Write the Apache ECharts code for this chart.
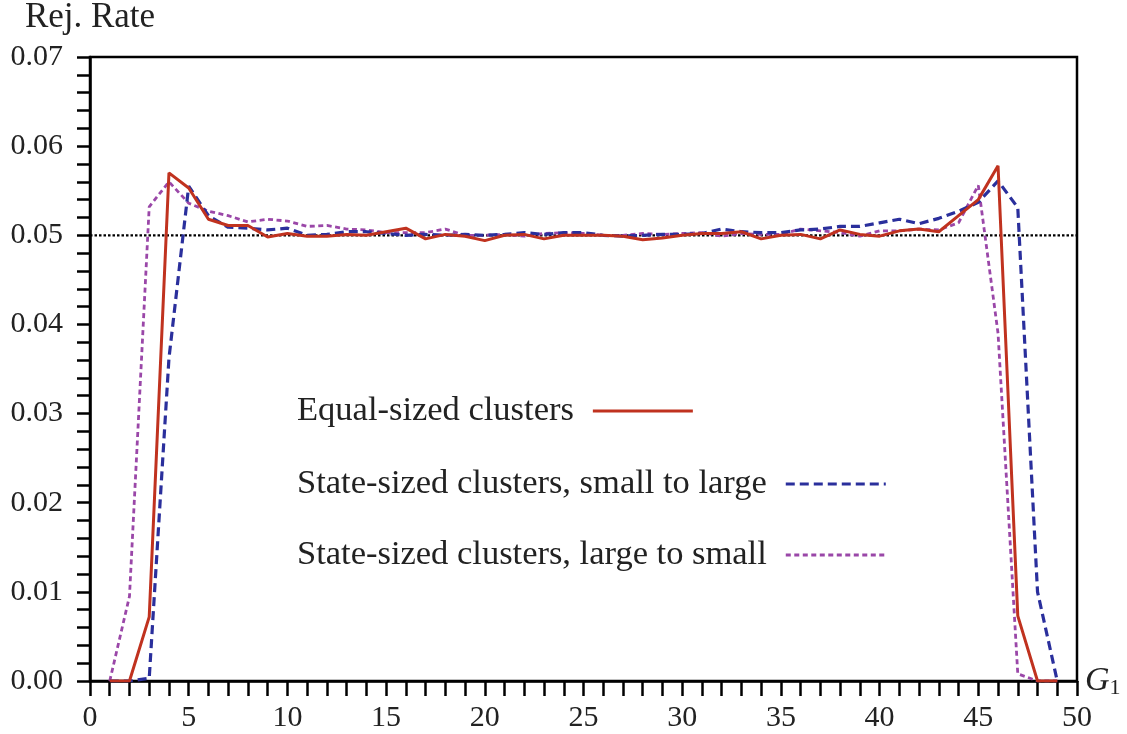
<!DOCTYPE html>
<html>
<head>
<meta charset="utf-8">
<script src="https://cdn.jsdelivr.net/npm/echarts@6/dist/echarts.min.js"></script>
<style>html,body{margin:0;padding:0;background:#fff}#c{width:1127px;height:734px}</style>
</head>
<body>
<div id="c"></div>
<script>
const G1 = [1,2,3,4,5,6,7,8,9,10,11,12,13,14,15,16,17,18,19,20,21,22,23,24,25,26,27,28,29,30,31,32,33,34,35,36,37,38,39,40,41,42,43,44,45,46,47,48,49];
const equalSized = [0,0,0.0072,0.0570,0.0553,0.0518,0.0511,0.0511,0.0498,0.0502,0.0499,0.0499,0.0501,0.0500,0.0504,0.0508,0.0496,0.0501,0.0499,0.0494,0.0500,0.0501,0.0496,0.0500,0.0500,0.0500,0.0499,0.0495,0.0497,0.0500,0.0502,0.0502,0.0504,0.0496,0.0500,0.0501,0.0496,0.0506,0.0501,0.0499,0.0505,0.0507,0.0504,0.0522,0.0540,0.0578,0.0073,0,0];
const smallToLarge = [0,0,0.0003,0.0362,0.0555,0.0522,0.0509,0.0508,0.0506,0.0508,0.0500,0.0501,0.0504,0.0504,0.0502,0.0500,0.0501,0.0500,0.0501,0.0500,0.0501,0.0503,0.0501,0.0503,0.0503,0.0500,0.0499,0.0500,0.0501,0.0501,0.0502,0.0507,0.0504,0.0503,0.0503,0.0506,0.0507,0.0510,0.0510,0.0514,0.0518,0.0513,0.0519,0.0527,0.0537,0.0561,0.0531,0.0100,0];
const largeToSmall = [0,0.0095,0.0532,0.0560,0.0536,0.0527,0.0522,0.0515,0.0518,0.0516,0.0510,0.0511,0.0507,0.0506,0.0503,0.0503,0.0503,0.0507,0.0500,0.0500,0.0501,0.0499,0.0502,0.0503,0.0502,0.0500,0.0500,0.0502,0.0501,0.0502,0.0503,0.0499,0.0502,0.0501,0.0501,0.0507,0.0505,0.0503,0.0499,0.0505,0.0505,0.0507,0.0506,0.0514,0.0556,0.0390,0.0008,0,0];
const nominal = [[0,0.05],[50,0.05]];
const names = ['Equal-sized clusters','State-sized clusters, small to large','State-sized clusters, large to small'];

const FONT = 'Liberation Serif';
const pair = arr => G1.map((g,i)=>[g,arr[i]]);
const legendTops = [393, 466, 537];
const chart = echarts.init(document.getElementById('c'), null, {renderer:'canvas'});
chart.setOption({
  animation:false,
  backgroundColor:'#fff',
  grid:{left:90,right:50,top:52,bottom:53,show:true,borderColor:'#000',borderWidth:2.5,backgroundColor:'transparent'},
  legend:names.map((n,i)=>({
    orient:'horizontal', left:297, top:legendTops[i], align:'right', padding:0,
    itemWidth:100, itemHeight:14, itemGap:0,
    data:[n],
    itemStyle:{opacity:0},
    lineStyle:{width:3},
    textStyle:{fontFamily:FONT,fontSize:34.5,color:'#222',lineHeight:36,padding:[0,14,0,0]}
  })),
  xAxis:{
    type:'value', min:0, max:50, interval:5,
    name:'{i|G}{s|1}', nameLocation:'end', nameGap:8,
    nameTextStyle:{rich:{i:{fontFamily:FONT,fontStyle:'italic',fontSize:34,color:'#222'},s:{fontFamily:FONT,fontSize:22,color:'#222',verticalAlign:'bottom',padding:[14,0,0,0]}}},
    axisLine:{show:true,onZero:false,lineStyle:{color:'#000',width:2.5}},
    axisTick:{show:true,inside:false,length:15,lineStyle:{color:'#000',width:2.5}},
    minorTick:{show:true,splitNumber:5,length:15,lineStyle:{color:'#000',width:2.5}},
    splitLine:{show:false},
    axisLabel:{fontFamily:FONT,fontSize:30,color:'#222',margin:22}
  },
  yAxis:{
    type:'value', min:0, max:0.07, interval:0.01,
    name:'Rej. Rate', nameLocation:'end', nameGap:22,
    nameTextStyle:{fontFamily:FONT,fontSize:35,color:'#222'},
    axisLine:{show:true,lineStyle:{color:'#000',width:2.5}},
    axisTick:{show:true,inside:false,length:13,lineStyle:{color:'#000',width:2.5}},
    minorTick:{show:true,splitNumber:5,length:13,lineStyle:{color:'#000',width:2.5}},
    splitLine:{show:false},
    axisLabel:{fontFamily:FONT,fontSize:30,color:'#222',margin:27,formatter:v=>v.toFixed(2)}
  },
  series:[
    {type:'line',name:'nominal',data:nominal,symbol:'none',silent:true,z:1,
     lineStyle:{color:'#000',width:2.2,type:[2.5,2]}},
    {type:'line',name:names[0],data:pair(equalSized),symbol:'none',z:4,
     itemStyle:{color:'#c0321f'},lineStyle:{color:'#c0321f',width:3,type:'solid'}},
    {type:'line',name:names[1],data:pair(smallToLarge),symbol:'none',z:3,
     itemStyle:{color:'#2a2f9c'},lineStyle:{color:'#2a2f9c',width:3.2,type:[9,5]}},
    {type:'line',name:names[2],data:pair(largeToSmall),symbol:'none',z:2,
     itemStyle:{color:'#9a47a8'},lineStyle:{color:'#9a47a8',width:2.8,type:[5,3.5]}}
  ]
});
</script>
</body>
</html>
